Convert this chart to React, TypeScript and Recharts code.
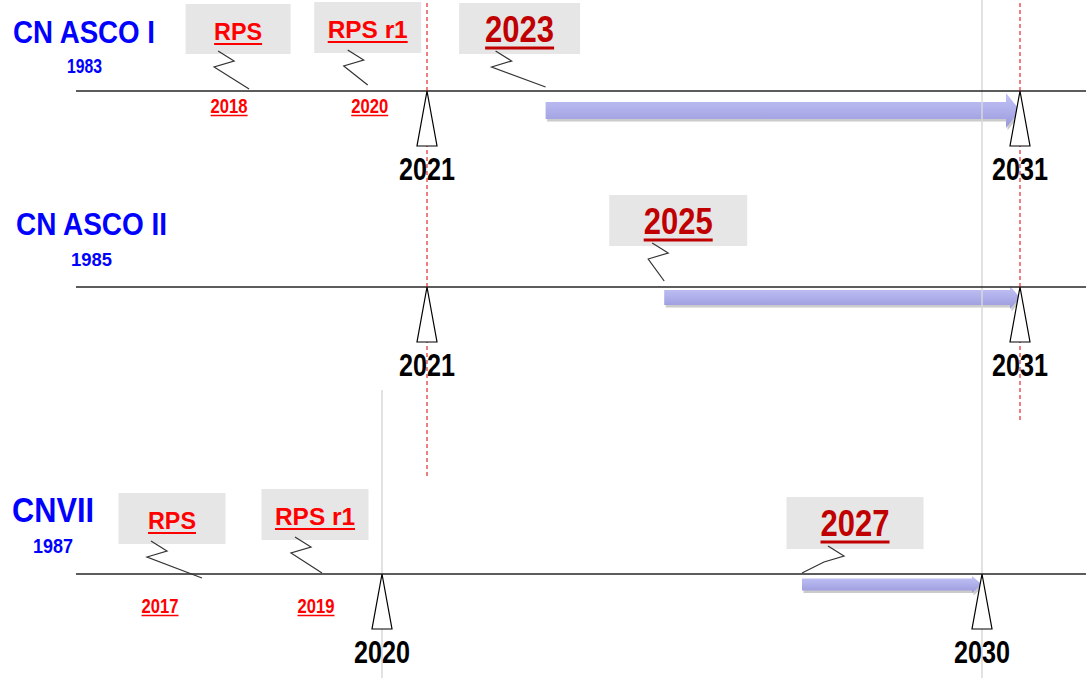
import React from "react";
import {
  ComposedChart,
  XAxis,
  YAxis,
  Scatter,
  ReferenceLine,
  ReferenceArea,
  Customized,
} from "recharts";

const WIDTH = 1086;
const HEIGHT = 678;
const PLOT_LEFT = 76;
const FONT = "'Liberation Sans', Arial, Helvetica, sans-serif";

// ---- data ----
const programs = ["CN ASCO I", "CN ASCO II", "CNVII"];
const commissioned = [1983, 1985, 1987];

const milestones = [
  { row: 0, year: 2021 },
  { row: 0, year: 2031 },
  { row: 1, year: 2021 },
  { row: 1, year: 2031 },
  { row: 2, year: 2020 },
  { row: 2, year: 2030 },
];

const periods = [
  { row: 0, from: 2023, to: 2031 },
  { row: 1, from: 2025, to: 2031 },
  { row: 2, from: 2027, to: 2030 },
];

const callouts = [
  { row: 0, year: 2018, label: "RPS", kind: "review" },
  { row: 0, year: 2020, label: "RPS r1", kind: "review" },
  { row: 0, year: 2023, label: "2023", kind: "target" },
  { row: 1, year: 2025, label: "2025", kind: "target" },
  { row: 2, year: 2017, label: "RPS", kind: "review" },
  { row: 2, year: 2019, label: "RPS r1", kind: "review" },
  { row: 2, year: 2027, label: "2027", kind: "target" },
];

const redMarkers = [2021, 2031];
const grayGuides = [2020, 2030];

// ---- layout ----
const ROW_Y = [91, 287, 574];
const axisOf = (row: number) => (row === 2 ? "c" : "ab");

// year scale of each axis, given one anchor year, its pixel and px per year
const yearDomain = (year: number, px: number, perYear: number): [number, number] => [
  year - (px - PLOT_LEFT) / perYear,
  year + (WIDTH - px) / perYear,
];

const titleLayout = [
  { x: 13, y: 43, size: 32, w: 142, sx: 67, sy: 73, ssize: 20, sw: 35 },
  { x: 16, y: 235, size: 32, w: 151, sx: 71, sy: 266, ssize: 19, sw: 41 },
  { x: 12, y: 522, size: 35, w: 82, sx: 33, sy: 553, ssize: 20, sw: 40 },
];

const redMarkerEnd = [478, 422];
const grayGuideTop = [390, 0];

const arrowLayout = [
  { top: 2, bottom: 37, shaft: 17, head: 14 },
  { top: -1, bottom: 22, shaft: 15, head: 10 },
  { top: 2, bottom: 19, shaft: 12, head: 10 },
];

// box placement relative to the point on the timeline
const calloutLayout = [
  { dx: -11, top: -87, w: 105, h: 50, zx: -20, end: -2, subDx: -9, subY: 22 },
  { dx: 0, top: -89, w: 107, h: 51, zx: -20, end: -6, subDx: 2, subY: 22 },
  { dx: -26, top: -88, w: 121, h: 51, zx: -24, end: -4 },
  { dx: 14, top: -92, w: 138, h: 51, zx: -26, end: -6 },
  { dx: -30, top: -81, w: 107, h: 51, zx: -21, end: 4, subDx: -12, subY: 39 },
  { dx: -7, top: -85, w: 107, h: 51, zx: -20, end: -1, subDx: 1, subY: 39 },
  { dx: 53, top: -77, w: 137, h: 52, zx: -27, end: -1 },
];

const reviewTextWidth: Record<string, number> = { RPS: 48, "RPS r1": 80 };

const Titles = () => (
  <g fontFamily={FONT} fontWeight="bold" fill="#0000ff">
    {programs.map((p, i) => {
      const t = titleLayout[i];
      return (
        <g key={p}>
          <text x={t.x} y={t.y} fontSize={t.size} textLength={t.w} lengthAdjust="spacingAndGlyphs">
            {p}
          </text>
          <text x={t.sx} y={t.sy} fontSize={t.ssize} textLength={t.sw} lengthAdjust="spacingAndGlyphs">
            {commissioned[i]}
          </text>
        </g>
      );
    })}
  </g>
);

const Milestone = (props: any) => {
  const { cx, cy, payload } = props;
  return (
    <g>
      <polygon
        points={`${cx},${cy} ${cx - 10},${cy + 55} ${cx + 10},${cy + 55}`}
        fill="#fff"
        stroke="#000"
        strokeWidth={1.2}
      />
      <text
        x={cx}
        y={cy + 89}
        textAnchor="middle"
        fontFamily={FONT}
        fontWeight="bold"
        fontSize={31}
        textLength={56}
        lengthAdjust="spacingAndGlyphs"
        fill="#000"
      >
        {payload.year}
      </text>
    </g>
  );
};

const Callout = (props: any) => {
  const { cx, cy, payload } = props;
  const L = calloutLayout[payload.idx];
  const review = payload.kind === "review";
  const bx = cx + L.dx;
  const top = cy + L.top;
  const tw = review ? reviewTextWidth[payload.label] : 69;
  const base = top + (review ? 36 : 39);
  const color = review ? "#ff0000" : "#c00000";
  const sx = bx + L.zx;
  const sy = top + L.h - 3;
  const zig = `${sx},${sy} ${sx + 16},${sy + 10} ${sx - 4},${sy + 16} ${cx},${cy + L.end}`;
  return (
    <g fontFamily={FONT} fontWeight="bold">
      <rect x={bx - L.w / 2} y={top} width={L.w} height={L.h} fill="#e6e6e6" />
      <polyline points={zig} fill="none" stroke="#333" strokeWidth={1.2} />
      <text
        x={bx}
        y={base}
        textAnchor="middle"
        fontSize={review ? 24 : 37}
        textLength={tw}
        lengthAdjust="spacingAndGlyphs"
        fill={color}
      >
        {payload.label}
      </text>
      <line
        x1={bx - tw / 2}
        x2={bx + tw / 2}
        y1={base + (review ? 4 : 6)}
        y2={base + (review ? 4 : 6)}
        stroke={color}
        strokeWidth={review ? 2 : 3}
      />
      {review && (
        <g>
          <text
            x={bx + L.subDx}
            y={cy + L.subY}
            textAnchor="middle"
            fontSize={20}
            textLength={37}
            lengthAdjust="spacingAndGlyphs"
            fill="#ff0000"
          >
            {payload.year}
          </text>
          <line
            x1={bx + L.subDx - 18.5}
            x2={bx + L.subDx + 18.5}
            y1={cy + L.subY + 2.5}
            y2={cy + L.subY + 2.5}
            stroke="#ff0000"
            strokeWidth={1.5}
          />
        </g>
      )}
    </g>
  );
};

const Arrow = (props: any) => {
  const { x, y, width, height, shaft, head, gid } = props;
  const mid = y + height / 2;
  const x2 = x + width;
  const hx = x2 - head;
  const st = mid - shaft / 2;
  const sb = mid + shaft / 2;
  const pts = `${x},${st} ${hx},${st} ${hx},${y} ${x2},${mid} ${hx},${y + height} ${hx},${sb} ${x},${sb}`;
  return (
    <g>
      <defs>
        <linearGradient id={gid} x1="0" y1="0" x2="0" y2="1">
          <stop offset="0" stopColor="#c4c4f8" />
          <stop offset="1" stopColor="#9999dc" />
        </linearGradient>
      </defs>
      <polygon points={pts} fill="#a8a8a8" opacity={0.6} transform="translate(1.5,2.5)" />
      <polygon points={pts} fill={`url(#${gid})`} />
    </g>
  );
};

const withY = <T extends { row: number }>(list: T[]) =>
  list.map((d, idx) => ({ ...d, idx, y: ROW_Y[d.row] }));

export default function App() {
  const ms = withY(milestones);
  const cs = withY(callouts);
  return (
    <div style={{ position: "absolute", left: 0, top: 0, background: "#fff" }}>
      <ComposedChart width={WIDTH} height={HEIGHT} margin={{ top: 0, right: 0, bottom: 0, left: PLOT_LEFT }}>
        <XAxis
          xAxisId="ab"
          dataKey="year"
          type="number"
          scale="linear"
          domain={yearDomain(2021, 427, 59.3)}
          allowDataOverflow
          hide
        />
        <XAxis
          xAxisId="c"
          dataKey="year"
          type="number"
          scale="linear"
          domain={yearDomain(2020, 382, 60)}
          allowDataOverflow
          hide
        />
        <YAxis yAxisId="y" dataKey="y" type="number" domain={[0, HEIGHT]} reversed allowDataOverflow hide />

        {grayGuides.map((yr, i) => (
          <ReferenceLine
            key={`g${yr}`}
            xAxisId="c"
            yAxisId="y"
            segment={[
              { x: yr, y: grayGuideTop[i] },
              { x: yr, y: HEIGHT },
            ]}
            stroke="#d9d9d9"
            strokeWidth={1.5}
          />
        ))}

        {ROW_Y.map((ry, i) => (
          <ReferenceLine key={`row${i}`} xAxisId="ab" yAxisId="y" y={ry} stroke="#262626" strokeWidth={1.5} />
        ))}

        {periods.map((p, i) => {
          const a = arrowLayout[p.row];
          return (
            <ReferenceArea
              key={`p${i}`}
              xAxisId={axisOf(p.row)}
              yAxisId="y"
              x1={p.from}
              x2={p.to}
              y1={ROW_Y[p.row] + a.top}
              y2={ROW_Y[p.row] + a.bottom}
              shape={(sp: any) => <Arrow {...sp} shaft={a.shaft} head={a.head} gid={`arrowGrad${i}`} />}
            />
          );
        })}

        <Scatter
          xAxisId="ab"
          yAxisId="y"
          data={ms.filter((d) => d.row < 2)}
          shape={Milestone}
          isAnimationActive={false}
        />
        <Scatter
          xAxisId="c"
          yAxisId="y"
          data={ms.filter((d) => d.row === 2)}
          shape={Milestone}
          isAnimationActive={false}
        />
        <Scatter
          xAxisId="ab"
          yAxisId="y"
          data={cs.filter((d) => d.row < 2)}
          shape={Callout}
          isAnimationActive={false}
        />
        <Scatter
          xAxisId="c"
          yAxisId="y"
          data={cs.filter((d) => d.row === 2)}
          shape={Callout}
          isAnimationActive={false}
        />

        {redMarkers.map((yr, i) => (
          <ReferenceLine
            key={`r${yr}`}
            xAxisId="ab"
            yAxisId="y"
            segment={[
              { x: yr, y: 3 },
              { x: yr, y: redMarkerEnd[i] },
            ]}
            stroke="#e00000"
            strokeWidth={1}
            strokeDasharray="4 3"
          />
        ))}

        <Customized component={<Titles />} />
      </ComposedChart>
    </div>
  );
}
